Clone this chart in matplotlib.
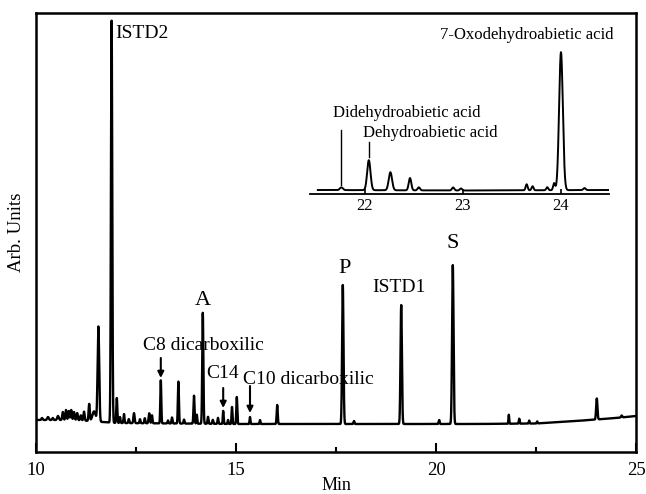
import numpy as np
import matplotlib
matplotlib.use('Agg')
import matplotlib.pyplot as plt

plt.rcParams['font.family'] = ['Liberation Serif', 'DejaVu Serif']

# Main chromatogram: baseline points (min, arb.) and peak table
base_rt = [10.0, 11.0, 12.0, 15.0, 21.0, 22.5, 23.5, 24.5, 25.0]
base_y = [32, 32, 29, 28, 28, 28.5, 31, 34, 36]

peak_rt = [10.15, 10.30, 10.42, 10.55, 10.67, 10.75, 10.82, 10.88, 10.95, 11.03,
           11.12, 11.20, 11.33, 11.45, 11.56, 11.89, 12.02, 12.10, 12.20, 12.32,
           12.45, 12.60, 12.72, 12.83, 12.90, 13.12, 13.30, 13.40, 13.56, 13.70,
           13.95, 14.02, 14.17, 14.30, 14.42, 14.55, 14.68, 14.80, 14.90, 15.02,
           15.35, 15.60, 16.03, 17.67, 17.95, 19.13, 20.08, 20.42, 21.82, 22.08,
           22.33, 22.53, 24.02, 24.64]
peak_amp = [2, 3, 2, 4, 8, 10, 9, 10, 8, 7,
            5, 9, 17, 10, 95, 402, 25, 6, 9, 4,
            10, 4, 5, 10, 8, 43, 3, 6, 42, 4,
            28, 9, 111, 7, 4, 6, 13, 4, 17, 27,
            7, 4, 19, 139, 3, 119, 4, 159, 9, 5,
            3, 2, 21, 2]
peak_sd = [0.015, 0.02, 0.015, 0.02, 0.015, 0.015, 0.015, 0.015, 0.015, 0.015,
           0.015, 0.015, 0.015, 0.04, 0.02, 0.016, 0.013, 0.012, 0.012, 0.012,
           0.015, 0.012, 0.012, 0.015, 0.012, 0.012, 0.012, 0.012, 0.013, 0.012,
           0.013, 0.01, 0.014, 0.012, 0.012, 0.012, 0.01, 0.01, 0.011, 0.012,
           0.01, 0.01, 0.013, 0.017, 0.012, 0.017, 0.012, 0.018, 0.009, 0.01,
           0.01, 0.01, 0.016, 0.015]

# Inset (21.5 - 24.5 min)
in_base_rt = [21.52, 23.0, 24.48]
in_base_y = [4, 3.5, 4]
in_rt = [21.76, 22.04, 22.26, 22.46, 22.55, 22.90, 22.98, 23.65, 23.71, 23.86, 23.93, 24.00, 24.24]
in_amp = [2.7, 30, 18, 12.3, 3, 3, 2, 6, 4, 3, 7, 138, 2]
in_sd = [0.015, 0.017, 0.017, 0.013, 0.012, 0.012, 0.012, 0.01, 0.01, 0.01, 0.01, 0.019, 0.012]


def trace(x, brt, by, rts, amps, sds):
    y = np.interp(x, brt, by)
    for r, a, s in zip(rts, amps, sds):
        y = y + a * np.exp(-0.5 * ((x - r) / s) ** 2)
    return y


fig = plt.figure(figsize=(6.46, 4.94), dpi=100)
ax = fig.add_axes([36 / 646, 42 / 494, 600 / 646, 439 / 494])

x = np.linspace(10, 25, 8000)
ax.plot(x, trace(x, base_rt, base_y, peak_rt, peak_amp, peak_sd), color='black', lw=1.7)

ax.set_xlim(10, 25)
ax.set_ylim(0, 439)
ax.set_xticks([10, 15, 20, 25])
ax.set_xticks([12.5, 17.5, 22.5], minor=True)
ax.set_yticks([])
ax.tick_params(axis='x', which='major', direction='in', length=6.5, width=1.5,
               labelsize=13.5, pad=7)
ax.tick_params(axis='x', which='minor', direction='in', length=3.6, width=1.5)
for sp in ax.spines.values():
    sp.set_linewidth(1.8)
ax.set_xlabel('Min', fontsize=13, labelpad=-1)
ax.set_ylabel('Arb. Units', fontsize=13.5, labelpad=8)

# peak labels
ax.text(11.975, 419, 'ISTD2', fontsize=14, ha='left', va='center')
ax.text(14.175, 152, 'A', fontsize=16, ha='center', va='center')
ax.text(14.175, 107, 'C8 dicarboxilic', fontsize=14, ha='center', va='center')
ax.text(14.66, 79, 'C14', fontsize=14, ha='center', va='center')
ax.text(15.175, 73, 'C10 dicarboxilic', fontsize=14, ha='left', va='center')
ax.text(17.725, 184, 'P', fontsize=16, ha='center', va='center')
ax.text(19.075, 165, 'ISTD1', fontsize=14, ha='center', va='center')
ax.text(20.425, 209, 'S', fontsize=16, ha='center', va='center')

# arrows
for ax_x, y0, y1 in [(13.12, 94, 74), (14.68, 64, 44), (15.35, 66, 39)]:
    ax.annotate('', xy=(ax_x, y1), xytext=(ax_x, y0),
                arrowprops=dict(arrowstyle='-|>', color='black', lw=1.5,
                                mutation_scale=9, shrinkA=0, shrinkB=0))

# inset
ins = fig.add_axes([310 / 646, 300 / 494, 299 / 646, 160 / 494])
xi = np.linspace(21.52, 24.48, 4000)
ins.plot(xi, trace(xi, in_base_rt, in_base_y, in_rt, in_amp, in_sd), color='black', lw=1.4)
ins.set_xlim(21.44, 24.49)
ins.set_ylim(0, 160)
ins.patch.set_visible(False)
for s in ['left', 'right', 'top']:
    ins.spines[s].set_visible(False)
ins.spines['bottom'].set_linewidth(1.3)
ins.set_yticks([])
ins.set_xticks([22, 23, 24])
ins.tick_params(axis='x', direction='in', length=3.5, width=1.2, labelsize=12, pad=3)

ins.plot([21.76, 21.76], [9, 64], color='black', lw=1)
ins.plot([22.04, 22.04], [37, 52], color='black', lw=1)
ins.text(21.67, 81, 'Didehydroabietic acid', fontsize=12, ha='left', va='center')
ins.text(21.98, 61, 'Dehydroabietic acid', fontsize=12, ha='left', va='center')
ins.text(23.65, 159, '7-Oxodehydroabietic acid', fontsize=12, ha='center', va='center')

fig.savefig('out.png', dpi=100)
